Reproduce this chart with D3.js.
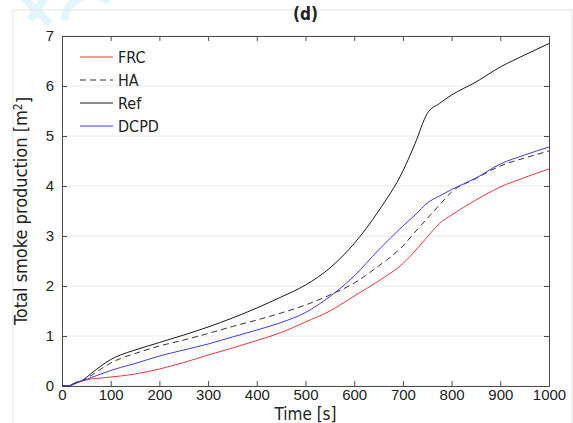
<!DOCTYPE html>
<html>
<head>
<meta charset="utf-8">
<script src="https://cdn.jsdelivr.net/npm/d3@7"></script>
<style>
  body { margin: 0; background: #fff; }
  svg { font-family: "DejaVu Sans Condensed", "DejaVu Sans", sans-serif; }
</style>
</head>
<body>
<svg id="chart"></svg>
<script>
const time = [0, 10, 20, 30, 40, 50, 60, 80, 100, 120, 150, 200, 250, 300, 350, 400, 450, 500, 550, 600, 650, 700, 725, 750, 775, 800, 850, 900, 950, 1000]
const frc  = [0, 0, 0.03, 0.08, 0.1, 0.12, 0.14, 0.16, 0.18, 0.2, 0.24, 0.34, 0.47, 0.62, 0.76, 0.91, 1.07, 1.28, 1.5, 1.8, 2.1, 2.45, 2.7, 2.98, 3.25, 3.42, 3.72, 3.98, 4.17, 4.34]
const ha   = [0, 0, 0.03, 0.07, 0.1, 0.15, 0.21, 0.34, 0.46, 0.55, 0.65, 0.8, 0.92, 1.05, 1.19, 1.32, 1.46, 1.62, 1.82, 2.06, 2.4, 2.8, 3.08, 3.35, 3.62, 3.88, 4.15, 4.4, 4.56, 4.7]
const ref  = [0, 0, 0.02, 0.06, 0.1, 0.17, 0.25, 0.4, 0.53, 0.62, 0.72, 0.87, 1.02, 1.18, 1.36, 1.56, 1.78, 2.02, 2.36, 2.85, 3.5, 4.3, 4.85, 5.45, 5.65, 5.82, 6.08, 6.38, 6.62, 6.85]
const dcpd = [0, 0, 0.02, 0.07, 0.1, 0.13, 0.17, 0.24, 0.31, 0.37, 0.45, 0.6, 0.72, 0.84, 0.98, 1.12, 1.27, 1.47, 1.79, 2.2, 2.72, 3.2, 3.42, 3.66, 3.8, 3.93, 4.16, 4.44, 4.62, 4.78]
const seriesNames = ["FRC", "HA", "Ref", "DCPD"]
const xTicks = [0, 100, 200, 300, 400, 500, 600, 700, 800, 900, 1000]
const yTicks = [0, 1, 2, 3, 4, 5, 6, 7]

let width = 573
let height = 423
let mLeft = 62, mRight = 549, mTop = 36, mBottom = 386
let axisColor = "#4d4d4d"

let svg = d3.select("#chart")
  .attr("width", width)
  .attr("height", height)

// faint watermark in the corner
let wm = svg.append("g").attr("fill", "none").attr("stroke", "#e2f6fd").attr("stroke-width", 8)
wm.append("path").attr("d", "M22,-4 L50,24")
wm.append("path").attr("d", "M46,-4 L30,20")
wm.append("path").attr("d", "M64,20 A28,28 0 0 1 110,2")

// figure frame
svg.append("rect")
  .attr("x", 13).attr("y", 10)
  .attr("width", 559).attr("height", 420)
  .attr("fill", "none").attr("stroke", "#e3e3e3")

const x = d3.scaleLinear().domain([0, 1000]).range([mLeft, mRight])
const y = d3.scaleLinear().domain([0, 7]).range([mBottom, mTop])

// grid
svg.append("g")
  .selectAll("line")
  .data(yTicks)
  .enter()
  .append("line")
  .attr("x1", mLeft).attr("x2", mRight)
  .attr("y1", d => y(d)).attr("y2", d => y(d))
  .attr("stroke", "#e8e8e8")

// axes, ticks inside like matlab
let fontSize = "15px"
let fmt = d3.format("d")
svg.append("g")
  .attr("transform", `translate(0,${mBottom})`)
  .call(d3.axisBottom(x).tickValues(xTicks).tickFormat(fmt).tickSizeInner(-5).tickSizeOuter(0).tickPadding(3))
svg.append("g")
  .attr("transform", `translate(0,${mTop})`)
  .call(d3.axisTop(x).tickValues(xTicks).tickSizeInner(-5).tickSizeOuter(0).tickFormat(""))
svg.append("g")
  .attr("transform", `translate(${mLeft},0)`)
  .call(d3.axisLeft(y).tickValues(yTicks).tickFormat(fmt).tickSizeInner(-5).tickSizeOuter(0).tickPadding(8))
svg.append("g")
  .attr("transform", `translate(${mRight},0)`)
  .call(d3.axisRight(y).tickValues(yTicks).tickSizeInner(-5).tickSizeOuter(0).tickFormat(""))

svg.selectAll(".domain").attr("stroke", axisColor)
svg.selectAll(".tick line").attr("stroke", axisColor)
svg.selectAll(".tick text").attr("fill", "#222").style("font-size", fontSize)

// curves
let lines = [
  { name: "FRC", values: frc, color: "#e8383d", dash: null },
  { name: "HA", values: ha, color: "#333333", dash: "6,4" },
  { name: "Ref", values: ref, color: "#1a1a1a", dash: null },
  { name: "DCPD", values: dcpd, color: "#3b3bf0", dash: null }
]

let line = d3.line()
  .x((d, i) => x(time[i]))
  .y(d => y(d))
  .curve(d3.curveMonotoneX)

svg.append("g")
  .selectAll("path")
  .data(lines)
  .enter()
  .append("path")
  .attr("d", d => line(d.values))
  .attr("fill", "none")
  .attr("stroke", d => d.color)
  .attr("stroke-width", 1)
  .attr("stroke-dasharray", d => d.dash)

// legend
let leg = svg.append("g").attr("transform", "translate(80,57)")
leg.selectAll("line")
  .data(lines)
  .enter()
  .append("line")
  .attr("x1", 0).attr("x2", 33)
  .attr("y1", (d, i) => i * 23).attr("y2", (d, i) => i * 23)
  .attr("stroke", d => d.color)
  .attr("stroke-dasharray", d => d.dash)
leg.selectAll("text")
  .data(seriesNames)
  .enter()
  .append("text")
  .attr("x", 38)
  .attr("y", (d, i) => i * 23)
  .attr("dy", "0.35em")
  .style("font-size", "16px")
  .attr("fill", "#222")
  .text(d => d)

// labels
svg.append("text")
  .attr("x", (mLeft + mRight) / 2).attr("y", 420)
  .attr("text-anchor", "middle")
  .style("font-size", "17px")
  .attr("fill", "#222")
  .text("Time [s]")

let yl = svg.append("text")
  .attr("transform", `translate(27,${(mTop + mBottom) / 2}) rotate(-90)`)
  .attr("text-anchor", "middle")
  .style("font-size", "18px")
  .attr("fill", "#222")
yl.append("tspan").text("Total smoke production [m")
yl.append("tspan").attr("dy", "-0.45em").style("font-size", "12px").text("2")
yl.append("tspan").attr("dy", "0.45em").text("]")

svg.append("text")
  .attr("x", (mLeft + mRight) / 2).attr("y", 20)
  .attr("text-anchor", "middle")
  .style("font-size", "17px")
  .style("font-weight", "bold")
  .attr("fill", "#222")
  .text("(d)")
</script>
</body>
</html>
